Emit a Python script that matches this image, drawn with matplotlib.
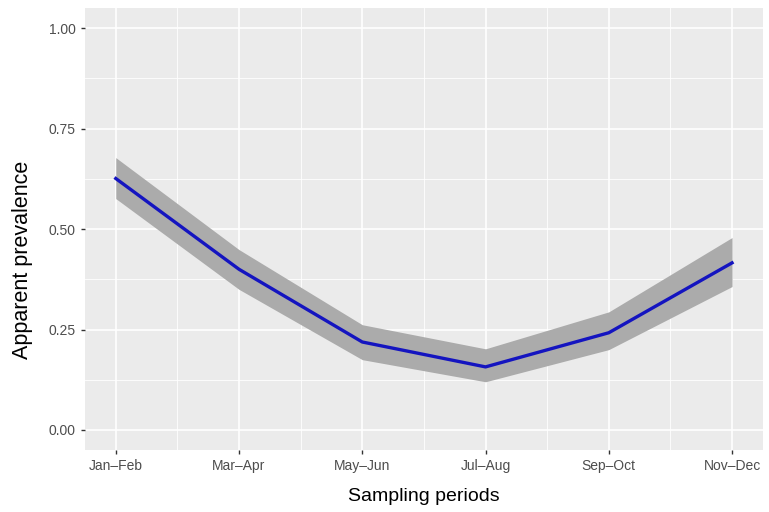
import numpy as np
import matplotlib.pyplot as plt

plt.rcParams['font.family'] = ['Liberation Sans', 'DejaVu Sans']

# sampling periods and estimated prevalence (with band)
periods = ['Jan\u2013Feb', 'Mar\u2013Apr', 'May\u2013Jun', 'Jul\u2013Aug', 'Sep\u2013Oct', 'Nov\u2013Dec']
prev = [0.626, 0.400, 0.219, 0.157, 0.242, 0.416]
upper = [0.678, 0.449, 0.262, 0.202, 0.294, 0.479]
lower = [0.576, 0.350, 0.175, 0.120, 0.200, 0.357]

x = np.arange(1, len(periods) + 1)

fig = plt.figure(figsize=(7.69, 5.12), dpi=100)
ax = fig.add_axes([0.1105, 0.121, 0.8815, 0.863])
ax.set_facecolor('#EBEBEB')

# grid like ggplot
for v in np.arange(0.125, 1.0, 0.25):
    ax.axhline(v, color='white', lw=0.6, zorder=0)
for v in np.arange(1.5, 6, 1):
    ax.axvline(v, color='white', lw=0.6, zorder=0)
for v in [0, 0.25, 0.5, 0.75, 1.0]:
    ax.axhline(v, color='white', lw=1.2, zorder=0)
for v in x:
    ax.axvline(v, color='white', lw=1.2, zorder=0)

ax.fill_between(x, lower, upper, color='#ABABAB', lw=0, zorder=1)
ax.plot(x, prev, color='#1414C0', lw=2.4, zorder=2)

ax.set_xlim(0.75, 6.25)
ax.set_ylim(-0.05, 1.05)
ax.set_xticks(x)
ax.set_xticklabels(periods)
ax.set_yticks([0, 0.25, 0.5, 0.75, 1.0])
ax.set_yticklabels(['0.00', '0.25', '0.50', '0.75', '1.00'])
ax.tick_params(colors='#333333', labelcolor='#4D4D4D', labelsize=10, length=3, width=1)

for s in ax.spines.values():
    s.set_visible(False)

ax.set_xlabel('Sampling periods', fontsize=14, color='black', labelpad=11)
ax.set_ylabel('Apparent prevalence', fontsize=15.5, color='black')
ax.yaxis.set_label_coords(-0.077, 0.43)

fig.savefig('out.png', dpi=100)
